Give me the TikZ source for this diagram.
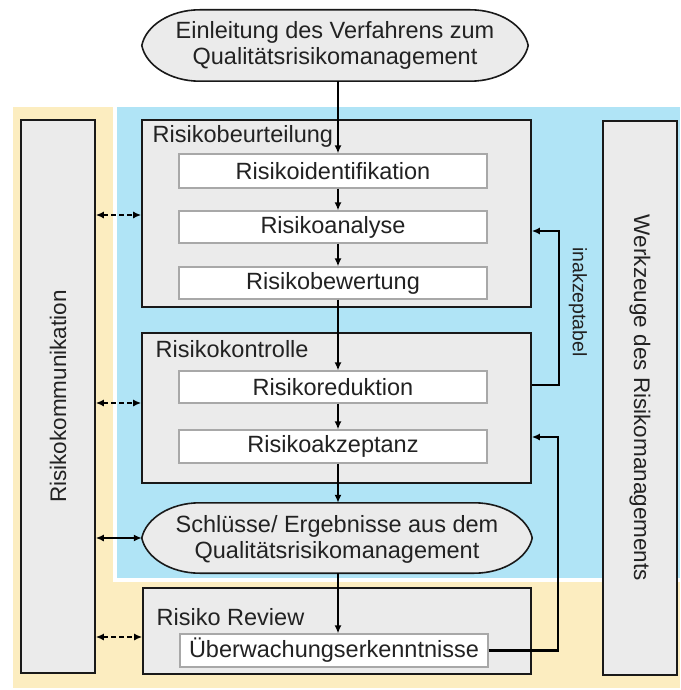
\documentclass[tikz,border=0pt]{standalone}
\usepackage{fontspec}
\setmainfont{Liberation Sans}
\usetikzlibrary{arrows.meta,calc}

\definecolor{bgyellow}{HTML}{FCEDC0}
\definecolor{bgblue}{HTML}{B0E4F6}
\definecolor{boxgray}{HTML}{EBEBEB}
\definecolor{ink}{HTML}{222222}
\definecolor{thinline}{HTML}{A8A8A8}

\tikzset{
  txt/.style={font=\fontsize{23.5}{29}\selectfont, text=ink},
  sidetxt/.style={font=\fontsize{22.5}{27}\selectfont, text=ink},
  smalltxt/.style={font=\fontsize{19.5}{23}\selectfont, text=ink},
  group/.style={draw=black!90, line width=1.6pt, fill=boxgray, rectangle, inner sep=0pt},
  sidebar/.style={draw=black!90, line width=1.6pt, fill=boxgray, rectangle, inner sep=0pt,
    minimum width=74pt},
  stepbox/.style={draw=thinline, line width=1.2pt, fill=white, rectangle, inner sep=0pt,
    minimum width=308pt, txt},
  ovalframe/.style={rectangle, inner sep=0pt},
  ovalline/.style={draw=black!90, line width=1.6pt, fill=boxgray},
  ovaltext/.style={font=\fontsize{23.5}{26}\selectfont, text=ink, align=center, inner sep=0pt},
  flow/.style={draw=black, line width=2.2pt, -{Latex[length=8pt,width=7pt]}},
  talk/.style={draw=black, line width=2.2pt, dash pattern=on 5pt off 3pt,
    {Latex[length=8pt,width=7pt]}-{Latex[length=8pt,width=7pt]}},
  talksolid/.style={draw=black, line width=2.2pt,
    {Latex[length=8pt,width=7pt]}-{Latex[length=8pt,width=7pt]}},
}

% flattened oval around the frame node #1: straight top and bottom, tapered ends
\newcommand{\flatoval}[1]{%
  \path[ovalline] ($(#1.north west)+(58,0)$) -- ($(#1.north east)+(-58,0)$)
    .. controls ($(#1.north east)+(-28,0)$) and ($(#1.north east)+(-4,16)$) .. (#1.east)
    .. controls ($(#1.south east)+(-4,-16)$) and ($(#1.south east)+(-28,0)$) .. ($(#1.south east)+(-58,0)$)
    -- ($(#1.south west)+(58,0)$)
    .. controls ($(#1.south west)+(28,0)$) and ($(#1.south west)+(4,-16)$) .. (#1.west)
    .. controls ($(#1.north west)+(4,16)$) and ($(#1.north west)+(28,0)$) .. ($(#1.north west)+(58,0)$)
    -- cycle;}

\begin{document}
\begin{tikzpicture}[x=1pt, y=-1pt]
  \useasboundingbox (0,0) rectangle (680,690);

  % background zones
  \fill[bgyellow] (13,107) rectangle (680,688);
  \fill[white] (113,107) rectangle (680,582);
  \fill[bgblue] (117,107) rectangle (680,578);

  % side bars
  \node[sidebar, minimum height=553pt] (kom) at (58,396.5) {};
  \node[sidetxt, rotate=90] at (kom.center) {Risikokommunikation};
  \node[sidebar, minimum height=554pt] (werk) at (640,398) {};
  \node[sidetxt, rotate=-90] at (werk.center) {Werkzeuge des Risikomanagements};

  % start
  \node[ovalframe, minimum width=386pt, minimum height=71pt] (start) at (335,45.5) {};
  \flatoval{start}
  \node[ovaltext] at (start.center) {Einleitung des Verfahrens zum\\Qualitätsrisikomanagement};

  % risk assessment
  \node[group, minimum width=389pt, minimum height=187pt] (beurt) at (336.5,213.5) {};
  \node[txt, anchor=base west] at ($(beurt.north west)+(8,23)$) {Risikobeurteilung};
  \node[stepbox, minimum height=34pt] (ident) at (333,171) {Risikoidentifikation};
  \node[stepbox, minimum height=32pt] (analyse) at (333,227) {Risikoanalyse};
  \node[stepbox, minimum height=32pt] (bewert) at (333,283) {Risikobewertung};

  % risk control
  \node[group, minimum width=389pt, minimum height=150pt] (kontr) at (336.5,408) {};
  \node[txt, anchor=base west] at ($(kontr.north west)+(11,25)$) {Risikokontrolle};
  \node[stepbox, minimum height=32pt] (reduk) at (333,387) {Risikoreduktion};
  \node[stepbox, minimum height=33pt] (akzept) at (333,446.5) {Risikoakzeptanz};

  % output
  \node[ovalframe, minimum width=390pt, minimum height=70pt] (schluss) at (337,538) {};
  \flatoval{schluss}
  \node[ovaltext] at ($(schluss.center)+(0,1)$) {Schlüsse/ Ergebnisse aus dem\\Qualitätsrisikomanagement};

  % risk review
  \node[group, minimum width=388pt, minimum height=86pt] (review) at (337,631) {};
  \node[txt, anchor=base west] at ($(review.north west)+(11,38)$) {Risiko Review};
  \node[stepbox, minimum height=33pt] (ueber) at (334,650.5) {Überwachungserkenntnisse};

  % main flow
  \coordinate (spine) at (338,0);
  \draw[flow] (spine |- start.south) -- (spine |- ident.north);
  \draw[flow] (spine |- ident.south) -- (spine |- analyse.north);
  \draw[flow] (spine |- analyse.south) -- (spine |- bewert.north);
  \draw[flow] (spine |- bewert.south) -- (spine |- reduk.north);
  \draw[flow] (spine |- reduk.south) -- (spine |- akzept.north);
  \draw[flow] (spine |- akzept.south) -- (spine |- schluss.north);
  \draw[flow] (spine |- schluss.south) -- (spine |- ueber.north);

  % feedback loops
  \coordinate (lo1) at (559,385);
  \coordinate (hi1) at (559,231);
  \draw[flow] (kontr.east |- lo1) -- (lo1) -- (hi1) -- (beurt.east |- hi1);
  \node[smalltxt, rotate=-90] (inak) at (578,302) {inakzeptabel};

  \coordinate (hi2) at (558,437);
  \draw[flow] (ueber.east) -| (hi2) -- (kontr.east |- hi2);

  % communication links
  \coordinate (k1) at (0,215);
  \coordinate (k2) at (0,403);
  \coordinate (k3) at (0,538);
  \coordinate (k4) at (0,637);
  \draw[talk] (kom.east |- k1) -- (beurt.west |- k1);
  \draw[talk] (kom.east |- k2) -- (kontr.west |- k2);
  \draw[talksolid] (kom.east |- k3) -- (schluss.west |- k3);
  \draw[talk] (kom.east |- k4) -- (review.west |- k4);
\end{tikzpicture}
\end{document}
